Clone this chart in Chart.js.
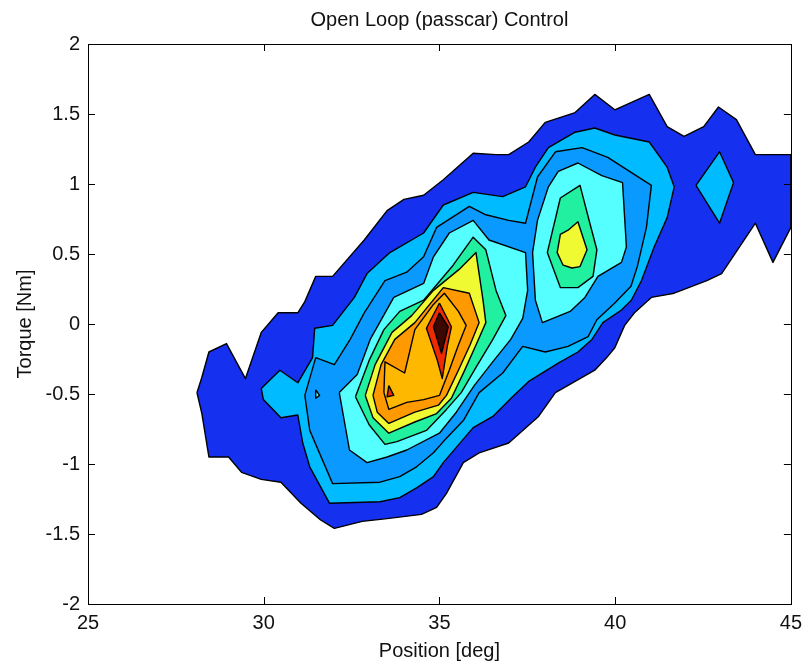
<!DOCTYPE html>
<html>
<head>
<meta charset="utf-8">
<title>Open Loop (passcar) Control</title>
<script src="https://cdn.jsdelivr.net/npm/chart.js@4.4.1/dist/chart.umd.min.js"></script>
<style>
  html, body { margin: 0; padding: 0; background: #fff; }
  #wrap { width: 809px; height: 665px; }
</style>
</head>
<body>
<div id="wrap"><canvas id="contour" width="809" height="665"></canvas></div>
<script>
// axis ticks
const positionTicks = [25, 30, 35, 40, 45];
const torqueTicks = [-2, -1.5, -1, -0.5, 0, 0.5, 1, 1.5, 2];
const torqueTickLabels = ['-2', '-1.5', '-1', '-0.5', '0', '0.5', '1', '1.5', '2'];

// contour outlines, [position deg, torque Nm]
const darkBlueBand = [[28.10,-0.49],[28.24,-0.38],[28.44,-0.20],[28.94,-0.14],[29.48,-0.39],[29.93,-0.06],[30.41,0.08],[30.97,0.08],[31.17,0.16],[31.48,0.34],[31.96,0.34],[32.86,0.60],[33.51,0.81],[33.99,0.89],[34.55,0.92],[35.11,1.03],[35.96,1.22],[36.61,1.21],[36.97,1.21],[37.54,1.30],[38.01,1.44],[38.86,1.51],[39.42,1.64],[39.99,1.53],[40.97,1.64],[41.48,1.41],[41.96,1.34],[42.52,1.41],[42.94,1.55],[43.45,1.46],[43.99,1.21],[45.00,1.21],[45.00,0.69],[44.49,0.44],[43.99,0.72],[43.03,0.36],[42.61,0.31],[41.68,0.22],[41.03,0.19],[40.55,0.08],[40.27,-0.01],[39.99,-0.17],[39.76,-0.24],[39.42,-0.33],[38.30,-0.49],[37.82,-0.66],[36.97,-0.85],[36.13,-0.92],[35.68,-0.99],[35.20,-1.21],[34.92,-1.31],[34.49,-1.36],[33.51,-1.39],[32.80,-1.41],[32.01,-1.46],[31.62,-1.40],[31.06,-1.28],[30.49,-1.13],[29.93,-1.11],[29.37,-1.06],[29.00,-0.95],[28.44,-0.95],[28.24,-0.64]];
const lightBlueIsle = [[42.30,0.99],[42.97,1.23],[43.37,1.01],[42.97,0.72]];
const lightBlueBand = [[29.93,-0.46],[30.46,-0.33],[30.97,-0.42],[31.39,-0.24],[31.45,-0.03],[31.96,-0.01],[32.58,0.19],[32.94,0.36],[33.59,0.51],[34.55,0.65],[35.11,0.85],[35.96,0.94],[36.80,0.91],[37.45,0.98],[37.73,1.12],[38.10,1.26],[38.86,1.37],[39.42,1.40],[39.99,1.35],[40.97,1.30],[41.48,1.12],[41.68,0.98],[41.48,0.76],[41.11,0.55],[40.75,0.31],[40.46,0.17],[40.18,0.10],[39.65,0.01],[39.34,-0.11],[38.94,-0.20],[38.38,-0.28],[37.54,-0.41],[37.08,-0.52],[36.52,-0.66],[35.96,-0.74],[35.11,-0.99],[34.83,-1.09],[34.35,-1.17],[33.87,-1.24],[33.31,-1.27],[31.87,-1.28],[31.31,-1.02],[31.11,-0.85],[30.97,-0.65],[30.49,-0.67],[29.99,-0.54]];
const midBlueBand = [[31.17,-0.51],[31.48,-0.24],[32.01,-0.29],[32.46,-0.11],[32.86,0.08],[33.45,0.31],[34.07,0.37],[34.55,0.48],[34.92,0.69],[35.85,0.84],[36.32,0.78],[36.97,0.74],[37.45,0.72],[37.79,1.05],[38.30,1.23],[39.06,1.26],[39.79,1.19],[41.03,0.99],[40.89,0.69],[40.63,0.41],[40.45,0.27],[39.99,0.15],[39.48,0.03],[39.23,-0.09],[38.66,-0.16],[38.01,-0.20],[37.37,-0.16],[36.80,-0.35],[36.13,-0.49],[35.68,-0.69],[35.11,-0.84],[34.83,-0.92],[34.35,-1.02],[33.87,-1.09],[33.31,-1.13],[31.96,-1.14],[31.31,-0.76]];
const cyanLeft = [[32.15,-0.49],[32.66,-0.36],[33.03,-0.11],[33.70,0.19],[34.55,0.29],[34.83,0.48],[35.28,0.65],[35.96,0.74],[36.41,0.60],[37.45,0.51],[37.51,0.24],[37.37,0.04],[37.03,-0.11],[36.55,-0.26],[35.99,-0.44],[35.48,-0.63],[35.00,-0.78],[34.07,-0.90],[33.51,-0.95],[32.94,-0.99],[32.44,-0.90]];
const cyanRight = [[37.79,0.74],[38.10,0.98],[38.38,1.09],[38.94,1.15],[39.62,1.06],[40.21,1.01],[40.32,0.55],[40.18,0.44],[39.51,0.34],[39.14,0.19],[38.72,0.09],[37.93,0.01],[37.73,0.17],[37.65,0.51]];
const cyanSpeck = [[31.48,-0.47],[31.59,-0.51],[31.48,-0.53]];
const greenLeft = [[32.61,-0.52],[33.00,-0.26],[33.42,-0.04],[33.87,0.09],[34.55,0.17],[35.39,0.42],[35.96,0.62],[36.32,0.53],[36.61,0.24],[36.89,0.06],[36.52,-0.11],[36.04,-0.31],[35.62,-0.49],[35.20,-0.61],[34.63,-0.76],[33.79,-0.84],[33.45,-0.86],[33.00,-0.72]];
const greenRight = [[38.44,0.90],[39.00,0.99],[39.28,0.72],[39.48,0.53],[39.37,0.34],[38.94,0.26],[38.44,0.26],[38.07,0.51]];
const yellowLeft = [[32.89,-0.51],[33.17,-0.29],[33.65,-0.06],[34.21,0.06],[34.83,0.24],[35.56,0.39],[36.04,0.51],[36.24,0.17],[36.32,0.01],[36.04,-0.15],[35.70,-0.34],[35.34,-0.53],[34.92,-0.64],[34.30,-0.70],[33.56,-0.78],[33.11,-0.67]];
const yellowRight = [[38.66,0.67],[38.94,0.73],[39.20,0.53],[39.00,0.41],[38.77,0.40],[38.52,0.42],[38.35,0.51],[38.44,0.64]];
const orangeBand = [[33.11,-0.51],[33.34,-0.29],[33.73,-0.11],[34.30,0.01],[35.11,0.26],[35.85,0.22],[36.13,0.01],[35.87,-0.15],[35.54,-0.33],[35.20,-0.51],[34.97,-0.58],[34.30,-0.63],[33.56,-0.71],[33.23,-0.63]];
const amberCore = [[33.42,-0.49],[33.45,-0.27],[34.01,-0.35],[34.30,-0.04],[34.83,0.14],[35.14,0.22],[35.54,0.09],[35.76,-0.01],[35.54,-0.15],[35.28,-0.33],[35.00,-0.51],[34.55,-0.54],[34.07,-0.56],[33.56,-0.61]];
const redSpike = [[35.00,0.15],[35.34,-0.02],[35.23,-0.15],[35.08,-0.39],[34.94,-0.26],[34.63,-0.03]];
const redSpot = [[33.56,-0.44],[33.70,-0.51],[33.51,-0.52]];
const darkRedCore = [[35.00,0.08],[35.25,-0.02],[35.06,-0.21],[34.83,-0.02]];

// fill colour for each contour level, lowest first
const levelColors = ['#1530ee', '#00bbff', '#0a9aff', '#55ffff', '#20f0a0', '#f0fa32', '#ff9900', '#ffb800', '#ee2a00', '#3a0800'];

// outline + level, painted bottom to top
const contourStack = [
  [darkBlueBand, 0],
  [lightBlueIsle, 1],
  [lightBlueBand, 1],
  [midBlueBand, 2],
  [cyanLeft, 3],
  [cyanRight, 3],
  [cyanSpeck, 3],
  [greenLeft, 4],
  [greenRight, 4],
  [yellowLeft, 5],
  [yellowRight, 5],
  [orangeBand, 6],
  [amberCore, 7],
  [redSpike, 8],
  [redSpot, 8],
  [darkRedCore, 9]
];

const FONT = { family: "'Liberation Sans', Arial, sans-serif", size: 20 };

// matlab style frame with inward ticks on all four sides
const boxTicks = {
  id: 'boxTicks',
  afterDraw(chart) {
    const { ctx, chartArea: a, scales } = chart;
    const len = 7;
    ctx.save();
    ctx.strokeStyle = '#000';
    ctx.lineWidth = 1;
    ctx.beginPath();
    scales.x.ticks.forEach(t => {
      const px = Math.round(scales.x.getPixelForValue(t.value)) + 0.5;
      ctx.moveTo(px, a.bottom); ctx.lineTo(px, a.bottom - len);
      ctx.moveTo(px, a.top); ctx.lineTo(px, a.top + len);
    });
    scales.y.ticks.forEach(t => {
      const py = Math.round(scales.y.getPixelForValue(t.value)) + 0.5;
      ctx.moveTo(a.left, py); ctx.lineTo(a.left + len, py);
      ctx.moveTo(a.right, py); ctx.lineTo(a.right - len, py);
    });
    ctx.stroke();
    ctx.strokeRect(Math.round(a.left) + 0.5, Math.round(a.top) + 0.5, Math.round(a.width), Math.round(a.height));
    ctx.restore();
  }
};

const datasets = contourStack.map(([path, level], i) => ({
  data: path.concat([path[0]]).map(([x, y]) => ({ x, y })),
  backgroundColor: levelColors[level],
  borderColor: '#000',
  borderWidth: 1.4,
  borderJoinStyle: 'round',
  fill: 'shape',
  pointRadius: 0,
  pointHitRadius: 0,
  tension: 0,
  order: contourStack.length - i
}));

new Chart(document.getElementById('contour').getContext('2d'), {
  type: 'line',
  data: { datasets },
  plugins: [boxTicks],
  options: {
    responsive: false,
    animation: false,
    events: [],
    layout: { padding: { left: 0, right: 11, top: 0, bottom: 0 } },
    plugins: {
      legend: { display: false },
      tooltip: { enabled: false },
      title: {
        display: true,
        fullSize: false,
        text: 'Open Loop (passcar) Control',
        color: '#111',
        font: { ...FONT, weight: 'normal' },
        padding: { top: 8, bottom: 12 }
      }
    },
    scales: {
      x: {
        type: 'linear',
        min: 25,
        max: 45,
        afterBuildTicks: s => { s.ticks = positionTicks.map(v => ({ value: v })); },
        afterFit: s => { s.height = 61; },
        grid: { display: false, drawTicks: false },
        border: { display: false },
        ticks: { color: '#111', font: FONT, padding: 7, autoSkip: false, maxRotation: 0, callback: v => String(v) },
        title: { display: true, text: 'Position [deg]', color: '#111', font: FONT, padding: { top: 0, bottom: 2 } }
      },
      y: {
        type: 'linear',
        min: -2,
        max: 2,
        afterBuildTicks: s => { s.ticks = torqueTicks.map(v => ({ value: v })); },
        afterFit: s => { s.width = 88; },
        grid: { display: false, drawTicks: false },
        border: { display: false },
        ticks: { color: '#111', font: FONT, padding: 8, autoSkip: false, callback: (v, i) => torqueTickLabels[i] },
        title: { display: true, text: 'Torque [Nm]', color: '#111', font: FONT, padding: { top: 13, bottom: 0 } }
      }
    }
  }
});
</script>
</body>
</html>
